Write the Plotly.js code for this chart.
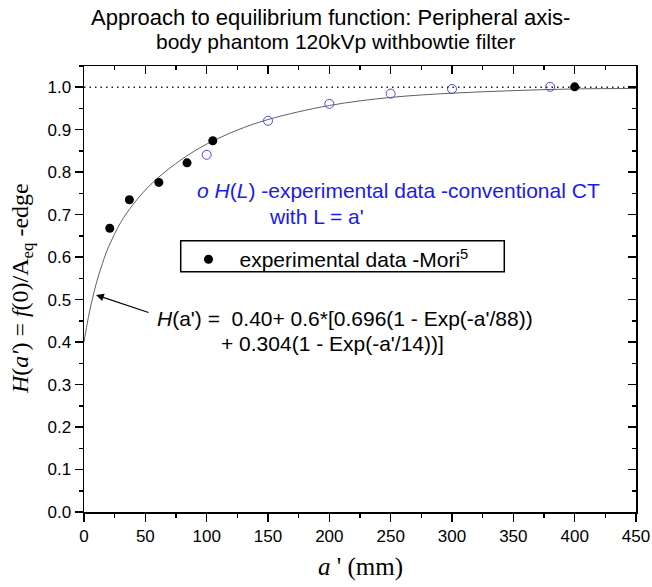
<!DOCTYPE html>
<html>
<head>
<meta charset="utf-8">
<script src="https://cdn.plot.ly/plotly-3.0.1.min.js"></script>
<style>html,body{margin:0;padding:0;background:#fff;}</style>
</head>
<body>
<div id="chart" style="width:652px;height:587px;"></div>
<script>
// Mori experimental data (filled dots)
var moriX = [21, 37, 61, 84, 105, 400];
var moriY = [0.668, 0.735, 0.776, 0.822, 0.874, 1.001];
// Conventional CT experimental data H(L) (open circles)
var ctX = [100, 150, 200, 250, 300, 380];
var ctY = [0.841, 0.921, 0.961, 0.985, 0.996, 1.001];
// Fitted curve, values
var curveX = [0, 2.5, 5, 10, 15, 20, 30, 40, 50, 60, 80, 100, 125, 150, 200, 250, 300, 350, 400, 450];
var curveY = [0.400, 0.442, 0.478, 0.538, 0.585, 0.624, 0.682, 0.724, 0.758, 0.786, 0.831, 0.866, 0.899, 0.924, 0.957, 0.976, 0.986, 0.992, 0.996, 0.997];
// Equilibrium reference line
var refX = [0, 450];
var refY = [1.0, 1.0];

var SANS = 'Liberation Sans, Arial, sans-serif';
var SERIF = 'Liberation Serif, Times New Roman, serif';

var traces = [
  {x: curveX, y: curveY, mode: 'lines', line: {color: '#606060', width: 1, shape: 'spline'}, showlegend: false, hoverinfo: 'skip'},
  {x: refX, y: refY, xaxis: 'x2', yaxis: 'y2', mode: 'lines', line: {color: '#222', width: 1.5, dash: '1.5px,4px'}, showlegend: false, hoverinfo: 'skip'},
  {x: ctX, y: ctY, mode: 'markers', marker: {symbol: 'circle-open', size: 9, color: '#4a4ae0', line: {width: 1}}, showlegend: false},
  {x: moriX, y: moriY, mode: 'markers', marker: {symbol: 'circle', size: 9, color: '#000'}, name: 'experimental data -Mori<sup>5</sup>'}
];

var axisCommon = {
  showgrid: false, zeroline: false, showline: true, linecolor: '#000', linewidth: 1.5,
  tickcolor: '#000', tickwidth: 1.5, ticklen: 8
};

var layout = {
  width: 652, height: 587,
  margin: {l: 84, r: 16, t: 66, b: 75},
  paper_bgcolor: '#fff', plot_bgcolor: '#fff',
  font: {family: SANS, color: '#000'},
  showlegend: true,
  legend: {
    x: 0.1694, y: 0.612, xanchor: 'left', yanchor: 'top',
    borderwidth: 0, bgcolor: 'rgba(0,0,0,0)', itemwidth: 52,
    font: {family: SANS, size: 21, color: '#000'}
  },
  shapes: [
    {type: 'rect', xref: 'paper', yref: 'paper', x0: 0.1752, x1: 0.7614, y0: 0.5388, y1: 0.6083,
     line: {color: '#000', width: 1.5}, fillcolor: 'rgba(0,0,0,0)'}
  ],
  xaxis: Object.assign({}, axisCommon, {
    range: [0, 450], tick0: 0, dtick: 50, ticks: 'outside',
    tickfont: {family: SANS, size: 17, color: '#000'},
    minor: {dtick: 25, ticks: 'outside', ticklen: 4, tickwidth: 1.5, tickcolor: '#000'}
  }),
  yaxis: Object.assign({}, axisCommon, {
    range: [0, 1.05], tick0: 0, dtick: 0.1, tickformat: '.1f', ticks: 'outside',
    tickfont: {family: SANS, size: 17, color: '#000'},
    minor: {dtick: 0.05, ticks: 'outside', ticklen: 4, tickwidth: 1.5, tickcolor: '#000'}
  }),
  xaxis2: Object.assign({}, axisCommon, {
    overlaying: 'x', side: 'top', anchor: 'y2', range: [0, 450], tick0: 0, dtick: 50,
    ticks: 'inside', showticklabels: false,
    minor: {dtick: 25, ticks: 'inside', ticklen: 4, tickwidth: 1.5, tickcolor: '#000'}
  }),
  yaxis2: Object.assign({}, axisCommon, {
    overlaying: 'y', side: 'right', anchor: 'x2', range: [0, 1.05], tick0: 0, dtick: 0.1,
    ticks: 'inside', showticklabels: false,
    minor: {dtick: 0.05, ticks: 'inside', ticklen: 4, tickwidth: 1.5, tickcolor: '#000'}
  }),
  annotations: [
    {xref: 'paper', yref: 'paper', x: 0.4457, y: 1.1087, xanchor: 'center', yanchor: 'middle', showarrow: false,
     text: 'Approach to equilibrium function: Peripheral axis-', font: {family: SANS, size: 22, color: '#000'}},
    {xref: 'paper', yref: 'paper', x: 0.4574, y: 1.054, xanchor: 'center', yanchor: 'middle', showarrow: false,
     text: 'body phantom 120kVp withbowtie filter', font: {family: SANS, size: 21, color: '#000'}},
    {xref: 'paper', yref: 'paper', x: 0.2009, y: 0.7209, xanchor: 'left', yanchor: 'middle', showarrow: false,
     text: '<i>o H</i>(<i>L</i>) -experimental data -conventional CT', font: {family: SANS, size: 21, color: '#1a1aee'}},
    {xref: 'paper', yref: 'paper', x: 0.3307, y: 0.6621, xanchor: 'left', yanchor: 'middle', showarrow: false,
     text: "with L = a'", font: {family: SANS, size: 21, color: '#1a1aee'}},
    {xref: 'paper', yref: 'paper', x: 0.1285, y: 0.4343, xanchor: 'left', yanchor: 'middle', showarrow: false,
     text: "<i>H</i>(a') =  0.40+ 0.6*[0.696(1 - Exp(-a'/88))", font: {family: SANS, size: 21, color: '#000'}},
    {xref: 'paper', yref: 'paper', x: 0.2449, y: 0.3783, xanchor: 'left', yanchor: 'middle', showarrow: false,
     text: "+ 0.304(1 - Exp(-a'/14))]", font: {family: SANS, size: 21, color: '#000'}},
    {xref: 'x', yref: 'y', x: 9.8, y: 0.511, text: '', showarrow: true, ax: 54, ay: 18,
     arrowhead: 2, arrowsize: 1.3, arrowwidth: 1.2, arrowcolor: '#000'},
    {xref: 'paper', yref: 'paper', x: -0.1122, y: 0.5, xanchor: 'center', yanchor: 'middle', showarrow: false, textangle: -90,
     text: "<i>H</i>(<i>a'</i>) = <i>f</i>(0)/A<sub>eq</sub> -edge", font: {family: SERIF, size: 24, color: '#000'}},
    {xref: 'paper', yref: 'paper', x: 0.5, y: -0.1233, xanchor: 'center', yanchor: 'middle', showarrow: false,
     text: "<i>a</i> ' (mm)", font: {family: SERIF, size: 25, color: '#000'}}
  ]
};

Plotly.newPlot('chart', traces, layout, {displayModeBar: false, staticPlot: true});
</script>
</body>
</html>
